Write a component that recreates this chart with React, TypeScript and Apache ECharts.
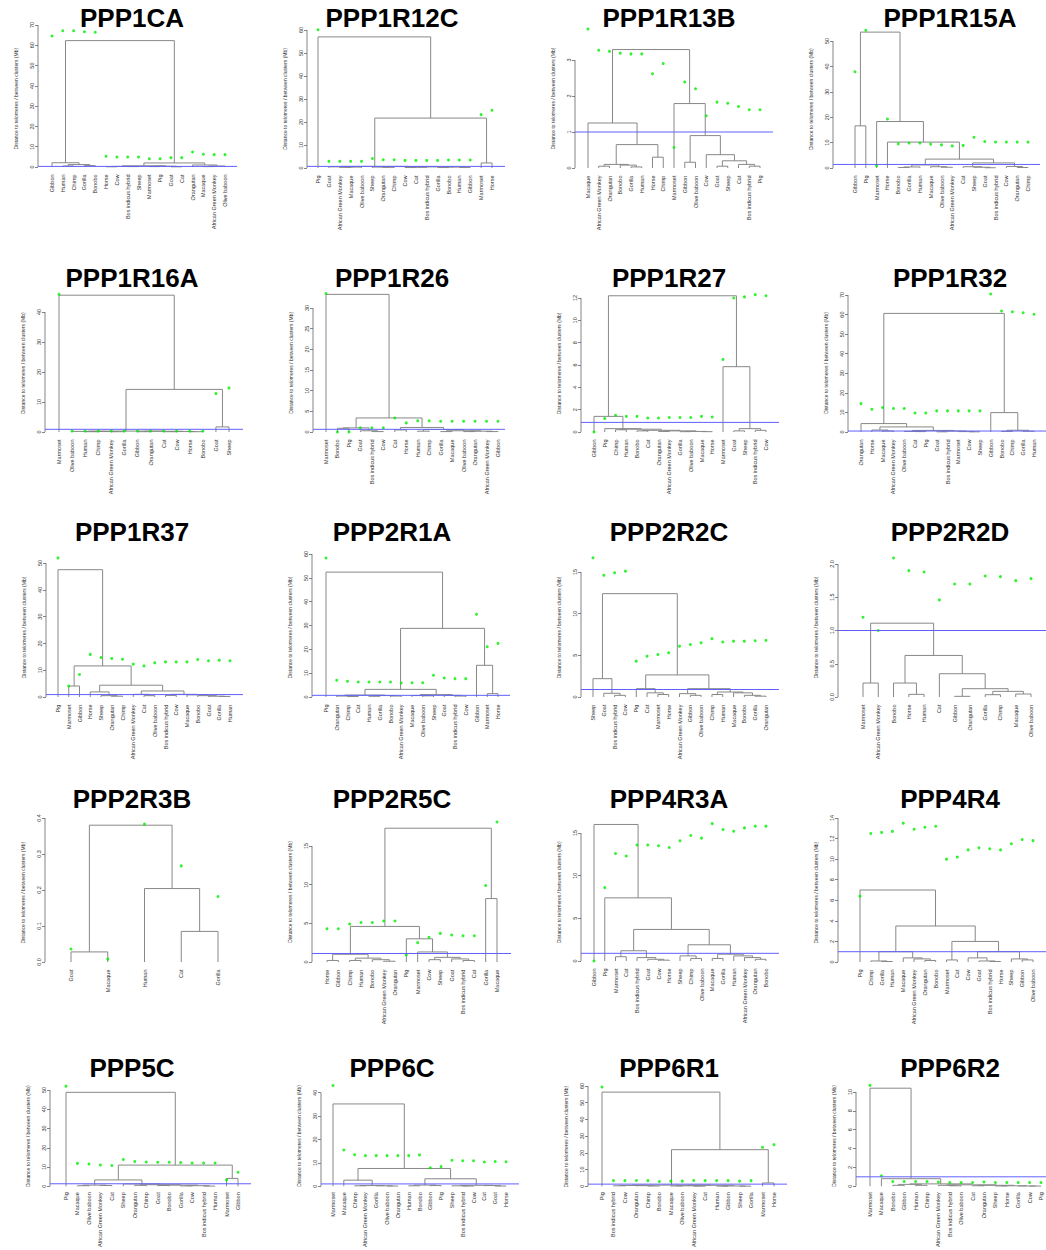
import React, { useEffect, useRef } from "react";
import * as echarts from "echarts";

type Tree = number | [number, Tree, Tree];

// ---------- PPP1CA ----------
const ppp1caLabels = ["Gibbon","Human","Chimp","Gorilla","Bonobo","Horse","Cow","Bos indicus hybrid","Sheep","Marmoset","Pig","Goat","Cat","Orangutan","Macaque","African Green Monkey","Olive baboon"];
const ppp1caTree: Tree = [62.3, [2.1, 0, [1.2, [0.5, 1, 2], [0.7, 3, 4]]], [2.0, [0.6, [0.3, [0.1, 5, 6], [0.2, 7, 8]], [0.4, [0.2, 9, 10], [0.1, 11, 12]]], [1.0, 13, [0.5, [0.2, 14, 15], 16]]]];
const ppp1caPoints = [64.6, 67.2, 67.2, 66.7, 66.4, 5.3, 4.9, 4.9, 4.9, 4.1, 4.1, 4.6, 4.6, 7.4, 6.3, 6.1, 6.1];
const ppp1caCut = 0.3;
const ppp1caTicks = [0, 10, 20, 30, 40, 50, 60, 70];

// ---------- PPP1R12C ----------
const ppp1r12cLabels = ["Pig","Goat","African Green Monkey","Macaque","Olive baboon","Sheep","Orangutan","Chimp","Cow","Cat","Bos indicus hybrid","Gorilla","Bonobo","Human","Gibbon","Marmoset","Horse"];
const ppp1r12cTree: Tree = [57, 0, [21.7, [0.7, [0.5, 1, [0.4, [0.3, 2, 3], 4]], [0.6, [0.4, 5, [0.3, 6, 7]], [0.5, [0.3, [0.2, 8, 9], 10], [0.4, [0.2, 11, 12], [0.2, 13, 14]]]]], [2.2, 15, 16]]];
const ppp1r12cPoints = [60.1, 2.9, 2.9, 2.9, 2.9, 4.1, 3.6, 3.6, 3.3, 3.3, 3.3, 3.3, 3.5, 3.5, 3.5, 23.2, 25.1];
const ppp1r12cCut = 0.7;
const ppp1r12cTicks = [0, 10, 20, 30, 40, 50, 60];

// ---------- PPP1R13B ----------
const ppp1r13bLabels = ["Macaque","African Green Monkey","Orangutan","Bonobo","Gorilla","Human","Horse","Chimp","Marmoset","Gibbon","Olive baboon","Cow","Goat","Sheep","Cat","Bos indicus hybrid","Pig"];
const ppp1r13bTree: Tree = [3.29, [1.25, 0, [0.65, [0.1, [0.05, 1, 2], [0.08, 3, [0.03, 4, 5]]], [0.3, 6, 7]]], [1.79, 8, [0.9, [0.16, 9, 10], [0.37, 11, [0.2, [0.05, 12, 13], [0.1, 14, [0.05, 15, 16]]]]]]];
const ppp1r13bPoints = [3.86, 3.27, 3.24, 3.19, 3.17, 3.17, 2.62, 2.9, 0.57, 2.39, 2.2, 1.45, 1.83, 1.8, 1.71, 1.62, 1.62];
const ppp1r13bCut = 1.0;
const ppp1r13bTicks = [0, 1, 2, 3];

// ---------- PPP1R15A ----------
const ppp1r15aLabels = ["Gibbon","Pig","Marmoset","Horse","Bonobo","Gorilla","Human","Macaque","Olive baboon","African Green Monkey","Cat","Sheep","Goat","Bos indicus hybrid","Cow","Orangutan","Chimp"];
const ppp1r15aTree: Tree = [53.5, [16.6, 0, 1], [18.3, 2, [10.2, 3, [3.5, [1.2, [0.4, [0.2, 4, 5], 6], [0.5, 7, [0.3, 8, 9]]], [2.0, [0.5, 10, [0.3, 11, [0.1, 12, 13]]], [0.6, 14, [0.2, 15, 16]]]]]]];
const ppp1r15aPoints = [37.9, 54.2, 0.9, 19.3, 9.5, 9.8, 9.8, 9.4, 9.1, 8.7, 8.9, 12.1, 10.4, 10.2, 10.2, 10.2, 10.2];
const ppp1r15aCut = 1.4;
const ppp1r15aTicks = [0, 10, 20, 30, 40, 50];

// ---------- PPP1R16A ----------
const ppp1r16aLabels = ["Marmoset","Olive baboon","Human","Chimp","African Green Monkey","Gorilla","Gibbon","Orangutan","Cat","Cow","Horse","Bonobo","Goat","Sheep"];
const ppp1r16aTree: Tree = [45.6, 0, [14.2, [0.3, [0.2, 1, [0.15, [0.1, 2, 3], [0.1, 4, 5]]], [0.25, [0.1, 6, 7], [0.15, [0.1, 8, 9], [0.1, 10, 11]]]], [1.7, 12, 13]]];
const ppp1r16aPoints = [45.9, 0.3, 0.3, 0.3, 0.3, 0.3, 0.3, 0.3, 0.3, 0.3, 0.3, 0.3, 12.8, 14.7];
const ppp1r16aCut = 0.9;
const ppp1r16aTicks = [0, 10, 20, 30, 40];

// ---------- PPP1R26 ----------
const ppp1r26Labels = ["Marmoset","Bonobo","Pig","Goat","Bos indicus hybrid","Cow","Cat","Horse","Human","Chimp","Gorilla","Macaque","Olive baboon","Orangutan","African Green Monkey","Gibbon"];
const ppp1r26Tree: Tree = [33.3, 0, [3.4, [1.0, [0.9, 1, 2], [0.3, 3, [0.1, 4, 5]]], [1.1, [0.5, 6, 7], [0.6, [0.2, 8, 9], [0.3, [0.1, 10, 11], [0.2, [0.1, 12, 13], [0.1, 14, 15]]]]]]];
const ppp1r26Points = [33.5, 0, 0, 1.0, 1.0, 1.0, 3.4, 2.2, 2.7, 2.7, 2.6, 2.6, 2.6, 2.6, 2.6, 2.6];
const ppp1r26Cut = 0.65;
const ppp1r26Ticks = [0, 5, 10, 15, 20, 25, 30];

// ---------- PPP1R27 ----------
const ppp1r27Labels = ["Gibbon","Pig","Chimp","Human","Bonobo","Cat","Orangutan","African Green Monkey","Gorilla","Olive baboon","Macaque","Horse","Marmoset","Goat","Sheep","Bos indicus hybrid","Cow"];
const ppp1r27Tree: Tree = [12.2, [1.4, 0, [0.3, 1, [0.25, [0.2, 2, 3], [0.15, [0.1, 4, 5], [0.1, [0.05, 6, 7], [0.05, [0.03, 8, 9], [0.03, 10, 11]]]]]]], [5.85, 12, [0.3, [0.1, 13, 14], [0.15, 15, 16]]]];
const ppp1r27Points = [0, 1.2, 1.5, 1.4, 1.4, 1.25, 1.25, 1.3, 1.3, 1.3, 1.4, 1.35, 6.5, 12.0, 12.1, 12.3, 12.2];
const ppp1r27Cut = 0.86;
const ppp1r27Ticks = [0, 2, 4, 6, 8, 10, 12];

// ---------- PPP1R32 ----------
const ppp1r32Labels = ["Orangutan","Horse","Macaque","African Green Monkey","Olive baboon","Cat","Pig","Goat","Bos indicus hybrid","Marmoset","Cow","Sheep","Gibbon","Bonobo","Chimp","Gorilla","Human"];
const ppp1r32Tree: Tree = [60.6, [4.3, 0, [2.6, [1.0, 1, [0.5, 2, 3]], [0.8, [0.3, 4, [0.2, 5, 6]], [0.5, [0.1, 7, 8], [0.2, 9, [0.1, 10, 11]]]]]], [9.9, 12, [0.9, [0.3, 13, 14], [0.4, 15, 16]]]];
const ppp1r32Points = [14.5, 11.6, 12.5, 12.0, 12.0, 9.7, 9.7, 10.8, 10.8, 10.8, 10.8, 10.8, 70.5, 61.8, 61.4, 60.9, 60.2];
const ppp1r32Cut = 0.5;
const ppp1r32Ticks = [0, 10, 20, 30, 40, 50, 60, 70];

// ---------- PPP1R37 ----------
const ppp1r37Labels = ["Pig","Marmoset","Gibbon","Horse","Sheep","Orangutan","Chimp","African Green Monkey","Cat","Olive baboon","Bos indicus hybrid","Cow","Macaque","Bonobo","Goat","Gorilla","Human"];
const ppp1r37Tree: Tree = [47.5, 0, [11.6, [4.1, 1, 2], [4.4, [1.9, 3, [0.5, 4, [0.3, 5, 6]]], [2.25, [1.0, 7, [0.5, 8, 9]], [1.0, [0.6, 10, 11], [0.8, 12, [0.5, 13, [0.3, 14, [0.2, 15, 16]]]]]]]]];
const ppp1r37Points = [51.9, 4.1, 8.4, 15.9, 14.75, 14.4, 14.1, 12.25, 11.6, 12.75, 13.1, 13.1, 13.1, 14.0, 13.5, 13.75, 13.5];
const ppp1r37Cut = 0.9;
const ppp1r37Ticks = [0, 10, 20, 30, 40, 50];

// ---------- PPP2R1A ----------
const ppp2r1aLabels = ["Pig","Orangutan","Chimp","Cat","Human","Gorilla","Bonobo","African Green Monkey","Macaque","Olive baboon","Sheep","Goat","Bos indicus hybrid","Cow","Gibbon","Marmoset","Horse"];
const ppp2r1aTree: Tree = [52.4, 0, [28.8, [3.2, [0.8, [0.4, 1, [0.2, 2, 3]], [0.6, [0.3, 4, 5], [0.4, 6, 7]]], [1.0, [0.6, 8, [0.5, 9, 10]], [0.7, 11, [0.4, 12, 13]]]], [13.3, 14, [1.4, 15, 16]]]];
const ppp2r1aPoints = [58.3, 7.0, 6.6, 6.3, 6.3, 6.3, 6.3, 5.9, 6.0, 6.0, 9.1, 8.0, 7.7, 7.7, 34.7, 21.1, 22.5];
const ppp2r1aCut = 0.7;
const ppp2r1aTicks = [0, 10, 20, 30, 40, 50, 60];

// ---------- PPP2R2C ----------
const ppp2r2cLabels = ["Sheep","Goat","Bos indicus hybrid","Cow","Pig","Cat","Marmoset","Horse","African Green Monkey","Gibbon","Olive baboon","Chimp","Human","Macaque","Bonobo","Gorilla","Orangutan"];
const ppp2r2cTree: Tree = [12.4, [2.2, 0, [0.45, 1, [0.2, 2, 3]]], [2.65, [1.0, 4, [0.5, 5, [0.3, 6, 7]]], [1.0, [0.4, 8, [0.2, 9, 10]], [0.6, [0.3, 11, 12], [0.5, 13, [0.2, 14, [0.1, 15, 16]]]]]]];
const ppp2r2cPoints = [16.7, 14.6, 14.9, 15.1, 4.3, 4.9, 5.1, 5.3, 6.1, 6.3, 6.5, 7.0, 6.6, 6.7, 6.7, 6.75, 6.8];
const ppp2r2cCut = 0.9;
const ppp2r2cTicks = [0, 5, 10, 15];

// ---------- PPP2R2D ----------
const ppp2r2dLabels = ["Marmoset","African Green Monkey","Bonobo","Horse","Human","Cat","Gibbon","Orangutan","Gorilla","Chimp","Macaque","Olive baboon"];
const ppp2r2dTree: Tree = [1.11, [0.21, 0, 1], [0.625, [0.21, 2, [0.04, 3, 4]], [0.35, 5, [0.125, [0.01, 6, 7], [0.085, [0.035, 8, 9], [0.045, 10, 11]]]]]];
const ppp2r2dPoints = [1.2, 1.0, 2.09, 1.9, 1.88, 1.46, 1.7, 1.7, 1.82, 1.81, 1.75, 1.78];
const ppp2r2dCut = 1.0;
const ppp2r2dTicks = [0, 0.5, 1.0, 1.5, 2.0];

// ---------- PPP2R3B ----------
const ppp2r3bLabels = ["Goat","Macaque","Human","Cat","Gorilla"];
const ppp2r3bTree: Tree = [0.38, [0.028, 0, 1], [0.204, 2, [0.085, 3, 4]]];
const ppp2r3bPoints = [0.036, 0.008, 0.383, 0.267, 0.182];
const ppp2r3bCut: number | null = null;
const ppp2r3bTicks = [0, 0.1, 0.2, 0.3, 0.4];

// ---------- PPP2R5C ----------
const ppp2r5cLabels = ["Horse","Gibbon","Chimp","Human","Bonobo","African Green Monkey","Orangutan","Pig","Marmoset","Cow","Sheep","Goat","Bos indicus hybrid","Cat","Gorilla","Macaque"];
const ppp2r5cTree: Tree = [17.3, [4.6, [1.0, [0.2, 0, 1], [0.5, [0.2, 2, 3], [0.3, 4, [0.1, 5, 6]]]], [3.0, 7, [1.3, 8, [0.6, [0.3, 9, 10], [0.4, 11, [0.2, 12, 13]]]]]], [8.2, 14, 15]];
const ppp2r5cPoints = [4.3, 4.3, 4.9, 5.1, 5.1, 5.3, 5.3, 0.9, 2.5, 3.2, 3.7, 3.5, 3.4, 3.4, 9.9, 18.1];
const ppp2r5cCut = 1.1;
const ppp2r5cTicks = [0, 5, 10, 15];

// ---------- PPP4R3A ----------
const ppp4r3aLabels = ["Gibbon","Pig","Marmoset","Cat","Bos indicus hybrid","Goat","Cow","Horse","Sheep","Chimp","Olive baboon","Macaque","Gorilla","Human","African Green Monkey","Orangutan","Bonobo"];
const ppp4r3aTree: Tree = [16.0, 0, [7.4, 1, [3.7, [1.2, [0.5, 2, 3], [0.4, 4, [0.2, 5, [0.1, 6, 7]]]], [1.9, [0.6, 8, [0.3, 9, 10]], [0.8, [0.3, 11, 12], [0.6, 13, [0.4, 14, [0.2, 15, 16]]]]]]]];
const ppp4r3aPoints = [0, 8.6, 12.6, 12.3, 13.6, 13.6, 13.5, 13.3, 14.1, 14.7, 14.4, 16.1, 15.4, 15.2, 15.6, 15.8, 15.8];
const ppp4r3aCut = 0.9;
const ppp4r3aTicks = [0, 5, 10, 15];

// ---------- PPP4R4 ----------
const ppp4r4Labels = ["Pig","Chimp","Gorilla","Human","Macaque","African Green Monkey","Orangutan","Bonobo","Marmoset","Cat","Cow","Goat","Bos indicus hybrid","Horse","Sheep","Gibbon","Olive baboon"];
const ppp4r4Tree: Tree = [7.0, 0, [3.5, [1.0, [0.1, 1, [0.05, 2, 3]], [0.4, 4, [0.3, 5, [0.15, 6, 7]]]], [2.0, [0.2, 8, 9], [1.0, [0.4, 10, [0.1, 11, [0.05, 12, 13]]], [0.3, 14, [0.2, 15, 16]]]]]];
const ppp4r4Points = [6.4, 12.5, 12.6, 12.7, 13.5, 12.9, 13.1, 13.2, 10.0, 10.2, 10.9, 11.1, 11.0, 10.9, 11.5, 11.9, 11.8];
const ppp4r4Cut = 1.0;
const ppp4r4Ticks = [0, 2, 4, 6, 8, 10, 12, 14];

// ---------- PPP5C ----------
const ppp5cLabels = ["Pig","Macaque","Olive baboon","African Green Monkey","Cat","Sheep","Orangutan","Chimp","Goat","Bonobo","Gorilla","Cow","Bos indicus hybrid","Human","Marmoset","Gibbon"];
const ppp5cTree: Tree = [48.8, 0, [11.0, [3.3, [0.6, [0.3, 1, 2], [0.4, 3, 4]], [1.2, 5, [0.8, [0.5, 6, 7], [0.6, [0.4, 8, 9], [0.3, [0.2, 10, 11], [0.1, 12, 13]]]]]], [4.1, 14, 15]]];
const ppp5cPoints = [52, 11.9, 11.6, 11.0, 10.8, 13.9, 12.9, 12.6, 12.5, 12.5, 12.3, 12.1, 12.1, 12.1, 3.3, 7.3];
const ppp5cCut = 1.3;
const ppp5cTicks = [0, 10, 20, 30, 40, 50];

// ---------- PPP6C ----------
const ppp6cLabels = ["Marmoset","Macaque","Chimp","African Green Monkey","Gorilla","Olive baboon","Orangutan","Human","Bonobo","Gibbon","Pig","Sheep","Bos indicus hybrid","Cow","Cat","Goat","Horse"];
const ppp6cTree: Tree = [35.2, 0, [7.6, [2.6, 1, [0.3, [0.2, 2, 3], [0.2, 4, [0.1, 5, 6]]]], [3.2, [0.5, [0.2, 7, 8], [0.3, 9, 10]], [0.4, [0.2, 11, [0.1, 12, 13]], [0.3, 14, [0.1, 15, 16]]]]]];
const ppp6cPoints = [43.1, 15.5, 13.5, 13.1, 13.1, 13.1, 13.1, 13.1, 13.4, 7.9, 8.4, 11.1, 10.9, 10.9, 10.4, 10.6, 10.5];
const ppp6cCut = 1.0;
const ppp6cTicks = [0, 10, 20, 30, 40];

// ---------- PPP6R1 ----------
const ppp6r1Labels = ["Pig","Bos indicus hybrid","Cow","Orangutan","Chimp","Bonobo","Macaque","Olive baboon","African Green Monkey","Cat","Human","Gibbon","Sheep","Gorilla","Marmoset","Horse"];
const ppp6r1Tree: Tree = [56.3, 0, [21.9, [0.7, [0.5, [0.3, 1, 2], [0.4, 3, [0.2, 4, 5]]], [0.6, [0.3, [0.2, 6, 7], [0.1, 8, 9]], [0.2, [0.1, 10, 11], [0.1, 12, 13]]]], [2.0, 14, 15]]];
const ppp6r1Points = [59.3, 3.4, 3.4, 3.5, 3.4, 2.9, 3.1, 3.1, 3.5, 3.4, 3.4, 3.4, 3.1, 3.4, 23.3, 24.9];
const ppp6r1Cut = 1.3;
const ppp6r1Ticks = [0, 10, 20, 30, 40, 50, 60];

// ---------- PPP6R2 ----------
const ppp6r2Labels = ["Marmoset","Macaque","Bonobo","Gibbon","Human","Chimp","African Green Monkey","Bos indicus hybrid","Olive baboon","Cat","Orangutan","Sheep","Horse","Gorilla","Cow","Pig"];
const ppp6r2Tree: Tree = [10.4, 0, [0.8, 1, [0.25, [0.2, [0.1, 2, 3], [0.1, 4, 5]], [0.15, [0.1, 6, [0.05, 7, 8]], [0.1, [0.05, 9, 10], [0.05, [0.03, 11, 12], [0.03, 13, [0.02, 14, 15]]]]]]]];
const ppp6r2Points = [10.7, 1.1, 0.5, 0.5, 0.5, 0.5, 0.44, 0.4, 0.4, 0.4, 0.45, 0.4, 0.4, 0.4, 0.4, 0.4];
const ppp6r2Cut = 1.0;
const ppp6r2Ticks = [0, 2, 4, 6, 8, 10];

const panels = [
  { title: "PPP1CA", labels: ppp1caLabels, tree: ppp1caTree, points: ppp1caPoints, cut: ppp1caCut, ticks: ppp1caTicks },
  { title: "PPP1R12C", labels: ppp1r12cLabels, tree: ppp1r12cTree, points: ppp1r12cPoints, cut: ppp1r12cCut, ticks: ppp1r12cTicks },
  { title: "PPP1R13B", labels: ppp1r13bLabels, tree: ppp1r13bTree, points: ppp1r13bPoints, cut: ppp1r13bCut, ticks: ppp1r13bTicks },
  { title: "PPP1R15A", labels: ppp1r15aLabels, tree: ppp1r15aTree, points: ppp1r15aPoints, cut: ppp1r15aCut, ticks: ppp1r15aTicks },
  { title: "PPP1R16A", labels: ppp1r16aLabels, tree: ppp1r16aTree, points: ppp1r16aPoints, cut: ppp1r16aCut, ticks: ppp1r16aTicks },
  { title: "PPP1R26", labels: ppp1r26Labels, tree: ppp1r26Tree, points: ppp1r26Points, cut: ppp1r26Cut, ticks: ppp1r26Ticks },
  { title: "PPP1R27", labels: ppp1r27Labels, tree: ppp1r27Tree, points: ppp1r27Points, cut: ppp1r27Cut, ticks: ppp1r27Ticks },
  { title: "PPP1R32", labels: ppp1r32Labels, tree: ppp1r32Tree, points: ppp1r32Points, cut: ppp1r32Cut, ticks: ppp1r32Ticks },
  { title: "PPP1R37", labels: ppp1r37Labels, tree: ppp1r37Tree, points: ppp1r37Points, cut: ppp1r37Cut, ticks: ppp1r37Ticks },
  { title: "PPP2R1A", labels: ppp2r1aLabels, tree: ppp2r1aTree, points: ppp2r1aPoints, cut: ppp2r1aCut, ticks: ppp2r1aTicks },
  { title: "PPP2R2C", labels: ppp2r2cLabels, tree: ppp2r2cTree, points: ppp2r2cPoints, cut: ppp2r2cCut, ticks: ppp2r2cTicks },
  { title: "PPP2R2D", labels: ppp2r2dLabels, tree: ppp2r2dTree, points: ppp2r2dPoints, cut: ppp2r2dCut, ticks: ppp2r2dTicks },
  { title: "PPP2R3B", labels: ppp2r3bLabels, tree: ppp2r3bTree, points: ppp2r3bPoints, cut: ppp2r3bCut, ticks: ppp2r3bTicks },
  { title: "PPP2R5C", labels: ppp2r5cLabels, tree: ppp2r5cTree, points: ppp2r5cPoints, cut: ppp2r5cCut, ticks: ppp2r5cTicks },
  { title: "PPP4R3A", labels: ppp4r3aLabels, tree: ppp4r3aTree, points: ppp4r3aPoints, cut: ppp4r3aCut, ticks: ppp4r3aTicks },
  { title: "PPP4R4", labels: ppp4r4Labels, tree: ppp4r4Tree, points: ppp4r4Points, cut: ppp4r4Cut, ticks: ppp4r4Ticks },
  { title: "PPP5C", labels: ppp5cLabels, tree: ppp5cTree, points: ppp5cPoints, cut: ppp5cCut, ticks: ppp5cTicks },
  { title: "PPP6C", labels: ppp6cLabels, tree: ppp6cTree, points: ppp6cPoints, cut: ppp6cCut, ticks: ppp6cTicks },
  { title: "PPP6R1", labels: ppp6r1Labels, tree: ppp6r1Tree, points: ppp6r1Points, cut: ppp6r1Cut, ticks: ppp6r1Ticks },
  { title: "PPP6R2", labels: ppp6r2Labels, tree: ppp6r2Tree, points: ppp6r2Points, cut: ppp6r2Cut, ticks: ppp6r2Ticks },
];

// Layout (pixels): [plot left, plot right, first leaf x, last leaf x, zero y, top tick y]
const frames: number[][] = [
  [38, 237, 52, 225, 167, 25],
  [307, 505, 318, 492, 168, 30],
  [575, 773, 588, 760, 168, 60],
  [833, 1040, 855, 1028, 168, 41],
  [45, 243, 59, 229, 432, 312],
  [313, 505, 326, 498, 432, 308],
  [581, 779, 594, 766, 432, 298],
  [848, 1046, 861, 1034, 432, 295],
  [46, 243, 58, 230, 697, 563],
  [312, 510, 326, 498, 697, 554],
  [581, 779, 593, 766, 697, 572],
  [838, 1046, 863, 1031, 697, 564],
  [45, 240, 71, 218, 962, 818],
  [312, 511, 327, 497, 962, 846],
  [581, 779, 594, 766, 961, 833],
  [838, 1046, 860, 1033, 962, 818],
  [50, 251, 66, 238, 1226, 1093],
  [321, 519, 333, 506, 1226, 1097],
  [588, 787, 602, 774, 1226, 1087],
  [856, 1046, 870, 1041, 1226, 1096],
];
const titleColX = [132, 392, 669, 950];
const titleRowY = [18, 278, 532, 799, 1068];

const FONT = "'Liberation Sans', Arial, Helvetica, sans-serif";
const AXIS_NAME = "Distance to telomeres / between clusters (Mb)";

function walk(node: Tree, segs: number[][]): { x: number; h: number } {
  if (typeof node === "number") return { x: node, h: 0 };
  const [h, a, b] = node;
  const ra = walk(a, segs);
  const rb = walk(b, segs);
  segs.push([ra.x, ra.h, rb.x, rb.h, h]);
  return { x: (ra.x + rb.x) / 2, h };
}

function buildOption() {
  const grid: any[] = [];
  const xAxis: any[] = [];
  const yAxis: any[] = [];
  const series: any[] = [];
  const graphic: any[] = [];

  panels.forEach((p, k) => {
    const [L, R, f, l, y0, tTop] = frames[k];
    const n = p.labels.length;
    const segs: number[][] = [];
    const root = walk(p.tree, segs);
    const maxData = Math.max(root.h, ...p.points);
    const topTick = p.ticks[p.ticks.length - 1];
    const unit = (y0 - tTop) / topTick;
    const yMin = -0.04 * maxData;
    const yMax = Math.max(maxData * 1.04, topTick);
    const s = (l - f) / (n - 1);
    const xMin = -(f - L) / s;
    const xMax = n - 1 + (R - l) / s;
    const decimals = p.ticks.some((t) => Math.abs(t - Math.round(t)) > 1e-9) ? 1 : 0;

    grid.push({ left: L, top: y0 - yMax * unit, width: R - L, height: (yMax - yMin) * unit });
    xAxis.push({
      type: "value", gridIndex: k, min: xMin, max: xMax,
      axisLine: { show: false, onZero: false }, axisTick: { show: false }, splitLine: { show: false },
      axisLabel: {
        customValues: p.labels.map((_, i) => i),
        formatter: (v: number) => p.labels[Math.round(v)] ?? "",
        rotate: 90, fontSize: 5.5, color: "#333", margin: 2, fontFamily: FONT,
      },
    });
    yAxis.push({
      type: "value", gridIndex: k, min: yMin, max: yMax,
      axisLine: { show: false, onZero: false }, splitLine: { show: false },
      axisTick: { show: true, customValues: p.ticks, length: 3, lineStyle: { color: "#666", width: 0.8 } },
      axisLabel: {
        customValues: p.ticks, rotate: 90, fontSize: 5.5, color: "#333", margin: 3, fontFamily: FONT,
        formatter: (v: number) => v.toFixed(decimals),
      },
      name: AXIS_NAME, nameLocation: "middle", nameGap: 20,
      nameTextStyle: { fontSize: 5, color: "#333", fontFamily: FONT },
    });
    series.push({
      type: "custom", xAxisIndex: k, yAxisIndex: k, silent: true, clip: false,
      dimensions: ["x1", "y1", "x2", "y2", "h"],
      encode: { x: [0, 2], y: [1, 3, 4] },
      data: segs,
      renderItem: (_params: any, api: any) => {
        const x1 = api.value(0), y1 = api.value(1), x2 = api.value(2), y2 = api.value(3), h = api.value(4);
        return {
          type: "polyline",
          shape: { points: [api.coord([x1, y1]), api.coord([x1, h]), api.coord([x2, h]), api.coord([x2, y2])] },
          style: { stroke: "#888888", lineWidth: 1, fill: null },
        };
      },
    });
    series.push({
      type: "custom", xAxisIndex: k, yAxisIndex: k, silent: true, clip: false,
      encode: { x: 0, y: [1, 2] },
      data: [[xMin, 0, topTick]],
      renderItem: (_params: any, api: any) => {
        const a = api.coord([api.value(0), api.value(1)]);
        const b = api.coord([api.value(0), api.value(2)]);
        return {
          type: "line",
          shape: { x1: a[0], y1: a[1], x2: b[0], y2: b[1] },
          style: { stroke: "#666", lineWidth: 0.8 },
        };
      },
    });
    series.push({
      type: "scatter", xAxisIndex: k, yAxisIndex: k, silent: true,
      symbol: "circle", symbolSize: 3,
      itemStyle: { color: "#00ee00" },
      data: p.points.map((v, i) => [i, v]),
    });
    if (p.cut !== null) {
      series.push({
        type: "line", xAxisIndex: k, yAxisIndex: k, silent: true, symbol: "none",
        lineStyle: { color: "#6060ff", width: 1 },
        data: [[xMin, p.cut], [xMax, p.cut]],
      });
    }
    graphic.push({
      type: "text",
      x: titleColX[k % 4],
      y: titleRowY[Math.floor(k / 4)],
      style: {
        text: p.title, fill: "#000",
        font: `bold 26px ${FONT}`,
        fontSize: 26, fontWeight: "bold", fontFamily: FONT,
        align: "center", verticalAlign: "middle",
        textAlign: "center", textVerticalAlign: "middle",
      },
    });
  });

  return {
    animation: false,
    backgroundColor: "#ffffff",
    grid, xAxis, yAxis, series, graphic,
  };
}

export default function App() {
  const ref = useRef<HTMLDivElement>(null);
  useEffect(() => {
    if (!ref.current) return;
    const chart = echarts.init(ref.current, undefined, { renderer: "svg" });
    chart.setOption(buildOption() as any);
    return () => chart.dispose();
  }, []);
  return (
    <div
      ref={ref}
      style={{ position: "absolute", left: 0, top: 0, width: 1046, height: 1250, background: "#fff" }}
    />
  );
}
